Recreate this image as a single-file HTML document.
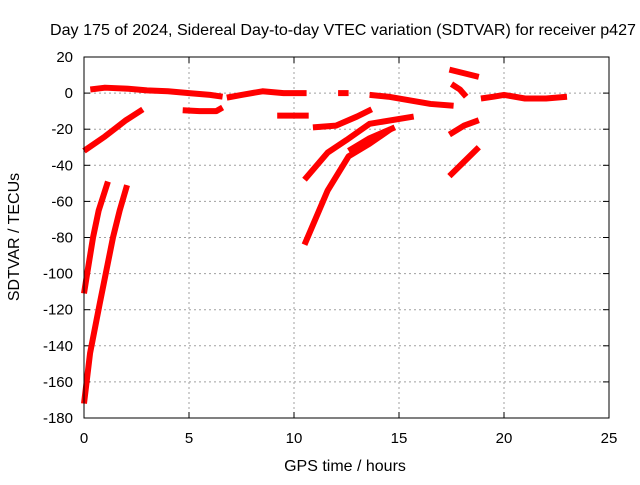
<!DOCTYPE html>
<html><head><meta charset="utf-8"><style>
body{margin:0;background:#fff;width:640px;height:480px;overflow:hidden}
svg{font-family:"Liberation Sans",sans-serif}
</style></head><body>
<svg id="chart" width="640" height="480" viewBox="0 0 640 480" xmlns="http://www.w3.org/2000/svg">
<rect width="640" height="480" fill="#fff"/>
<text x="343" y="35" font-size="16" text-anchor="middle" textLength="586" lengthAdjust="spacingAndGlyphs">Day 175 of 2024, Sidereal Day-to-day VTEC variation (SDTVAR) for receiver p427</text>
<text x="345" y="471" font-size="16" text-anchor="middle">GPS time / hours</text>
<text transform="translate(19,237) rotate(-90)" font-size="16" text-anchor="middle">SDTVAR / TECUs</text>
<g id="grid"></g><g id="ticks"></g><g id="series"></g>
<rect x="84" y="57" width="525" height="361" fill="none" stroke="#000" stroke-width="1"/>
</svg>
<script>
const xTicks=[0,5,10,15,20,25];
const yTicks=[20,0,-20,-40,-60,-80,-100,-120,-140,-160,-180];
const track1=[[0.3,2],[1,3],[2,2.5],[3,1.5],[4,1],[5,0],[6,-1],[6.6,-2]];
const track2=[[4.7,-9.5],[5.5,-10],[6.3,-10],[6.6,-8]];
const track3=[[0,-32],[1,-24],[2,-15],[2.8,-9]];
const track4=[[0,-111],[0.15,-100],[0.43,-80],[0.7,-65],[1.14,-49]];
const track5=[[0,-172],[0.29,-144],[0.76,-116],[1.38,-80],[1.7,-65],[2.05,-51]];
const track6=[[6.8,-2.5],[7.5,-1],[8.5,1],[9.5,0],[10.6,0]];
const track7=[[9.2,-12.5],[10,-12.5],[10.7,-12.5]];
const track8=[[12.1,0],[12.6,0]];
const track9=[[13.6,-1],[14.5,-2],[15.5,-4],[16.5,-6],[17.6,-7]];
const track10=[[10.9,-19],[12,-18],[13,-13],[13.7,-9]];
const track11=[[10.5,-48],[11.6,-33],[12.5,-26],[13.6,-17],[15.7,-13]];
const track12=[[12.6,-32],[13.6,-25],[14.8,-19]];
const track13=[[10.5,-84],[11.6,-54],[12.6,-35],[13.6,-28],[14.6,-20]];
const track14=[[17.4,13],[18.1,11],[18.8,9]];
const track15=[[17.5,5],[17.9,2],[18.2,-2]];
const track16=[[17.4,-23],[18.1,-18],[18.8,-15]];
const track17=[[17.4,-46],[18.1,-38],[18.8,-30]];
const track18=[[18.9,-3],[19.5,-2],[20,-1],[21,-3],[22,-3],[23,-2]];
const tracks=[track1,track2,track3,track4,track5,track6,track7,track8,track9,track10,track11,track12,track13,track14,track15,track16,track17,track18];
const X=t=>84+t*21, Y=v=>57+(20-v)*361/200;
const NS="http://www.w3.org/2000/svg";
const grid=document.getElementById('grid'),ticks=document.getElementById('ticks'),series=document.getElementById('series');
function mk(tag,attrs,parent){const e=document.createElementNS(NS,tag);for(const k in attrs)e.setAttribute(k,attrs[k]);parent.appendChild(e);return e;}
xTicks.forEach(t=>{
 if(t>0&&t<25){const g=mk('line',{x1:X(t),x2:X(t),y1:57,y2:418,stroke:'#a0a0a0','stroke-dasharray':'2,3'},grid);
 
 }
 mk('line',{x1:X(t),x2:X(t),y1:418,y2:412,stroke:'#000'},ticks);
 mk('line',{x1:X(t),x2:X(t),y1:57,y2:63,stroke:'#000'},ticks);
 const l=mk('text',{x:X(t),y:443,'font-size':15,'text-anchor':'middle'},ticks);l.textContent=t;
 
 
});
yTicks.forEach(v=>{
 if(v<20&&v>-180){const g=mk('line',{x1:84,x2:609,y1:Y(v),y2:Y(v),stroke:'#a0a0a0','stroke-dasharray':'2,3'},grid);
 
 }
 mk('line',{x1:84,x2:90,y1:Y(v),y2:Y(v),stroke:'#000'},ticks);
 mk('line',{x1:603,x2:609,y1:Y(v),y2:Y(v),stroke:'#000'},ticks);
 const l=mk('text',{x:73,y:Y(v)+5,'font-size':15,'text-anchor':'end'},ticks);l.textContent=v;
 
 
});
tracks.forEach((tr,i)=>{
 const p=mk('polyline',{points:tr.map(d=>X(d[0])+','+Y(d[1])).join(' '),fill:'none',stroke:'#ff0000','stroke-width':6,'stroke-linejoin':'round'},series);
 
 
});
</script>
</body></html>
